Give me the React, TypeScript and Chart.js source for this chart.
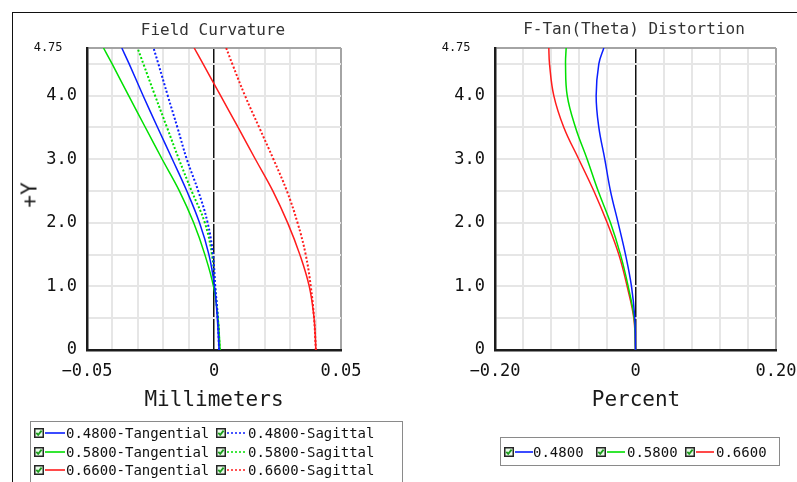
import React, { useEffect, useRef } from "react";
import { Chart, registerables } from "chart.js";

Chart.register(...registerables);

// ---------- data ----------
const fieldY = [0, 0.5, 1.0, 1.5, 2.0, 2.5, 3.0, 3.5, 4.0, 4.5, 4.75];

// Field curvature (mm)
const fc048T = [0.0020, 0.0013, 0.0002, -0.0020, -0.0057, -0.0107, -0.0164, -0.0222, -0.0279, -0.0334, -0.0363];
const fc048S = [0.0020, 0.0015, 0.0005, -0.0004, -0.0025, -0.0062, -0.0107, -0.0144, -0.0182, -0.0219, -0.0238];
const fc058T = [0.0024, 0.0016, -0.0002, -0.0036, -0.0080, -0.0136, -0.0204, -0.0270, -0.0336, -0.0401, -0.0435];
const fc058S = [0.0023, 0.0015, 0.0004, -0.0008, -0.0036, -0.0088, -0.0138, -0.0185, -0.0232, -0.0278, -0.0301];
const fc066T = [0.0401, 0.0394, 0.0375, 0.0338, 0.0290, 0.0232, 0.0163, 0.0095, 0.0026, -0.0043, -0.0078];
const fc066S = [0.0401, 0.0394, 0.0381, 0.0361, 0.0329, 0.0287, 0.0234, 0.0178, 0.0122, 0.0072, 0.0048];

// F-Tan(Theta) distortion (percent)
const dist048 = [0, -0.0010, -0.0057, -0.0142, -0.0247, -0.0356, -0.0437, -0.0522, -0.0560, -0.0522, -0.0451];
const dist058 = [0, -0.0019, -0.0104, -0.0214, -0.0356, -0.0531, -0.0688, -0.0854, -0.0972, -0.0996, -0.0987];
const dist066 = [0, -0.0024, -0.0119, -0.0237, -0.0403, -0.0593, -0.0807, -0.1020, -0.1163, -0.1224, -0.1234];

// ticks
const yTicks = [0, 0.5, 1.0, 1.5, 2.0, 2.5, 3.0, 3.5, 4.0, 4.5, 4.75];
const yMax = 4.75;
const fcXTicks = [-0.05, -0.04, -0.03, -0.02, -0.01, 0, 0.01, 0.02, 0.03, 0.04, 0.05];
const fcXLabels = ["\u22120.05", "0", "0.05"];
const distXTicks = [-0.2, -0.16, -0.12, -0.08, -0.04, 0, 0.04, 0.08, 0.12, 0.16, 0.2];
const distXLabels = ["\u22120.20", "0", "0.20"];

const fcLegend = [
  "0.4800-Tangential", "0.4800-Sagittal",
  "0.5800-Tangential", "0.5800-Sagittal",
  "0.6600-Tangential", "0.6600-Sagittal",
];
const distLegend = ["0.4800", "0.5800", "0.6600"];

// ---------- style ----------
const BLUE = "#0a1eff";
const GREEN = "#00e000";
const RED = "#ff1c1c";
const MONO = "'DejaVu Sans Mono', monospace";
const GRID = "#e6e6e6";
const EDGE = "#a4a4a4";

const pts = (xs: number[]) => fieldY.map((y, i) => ({ x: xs[i], y }));

function ds(xs: number[], color: string, dotted: boolean) {
  return {
    data: pts(xs),
    borderColor: color,
    backgroundColor: color,
    borderWidth: dotted ? 2 : 1.5,
    borderDash: dotted ? [2, 2] : [],
    pointRadius: 0,
    showLine: true,
    tension: 0.4,
    fill: false,
  };
}

function buildConfig(
  datasets: any[],
  xTicks: number[],
  xLabels: string[],
  yWidth: number,
  padRight: number
): any {
  const xMin = xTicks[0];
  const xMax = xTicks[xTicks.length - 1];
  const near = (a: number, b: number) => Math.abs(a - b) < 1e-9;
  return {
    type: "scatter",
    data: { datasets },
    options: {
      animation: false,
      responsive: false,
      events: [],
      layout: { padding: { top: 48, left: 0, right: padRight, bottom: 0 } },
      plugins: {
        legend: { display: false },
        tooltip: { enabled: false },
        title: { display: false },
      },
      scales: {
        x: {
          type: "linear",
          min: xMin,
          max: xMax,
          afterBuildTicks: (s: any) => {
            s.ticks = xTicks.map((v) => ({ value: v }));
          },
          afterFit: (s: any) => {
            s.height = 132;
          },
          ticks: {
            autoSkip: false,
            maxRotation: 0,
            padding: 11,
            color: "#111",
            font: { family: "DejaVu Sans Mono", size: 17 },
            callback: (v: number) =>
              near(v, xMin) ? xLabels[0] : near(v, 0) ? xLabels[1] : near(v, xMax) ? xLabels[2] : "",
          },
          grid: {
            drawTicks: false,
            color: (c: any) =>
              c.tick && near(c.tick.value, 0) ? "#111" : c.tick && near(c.tick.value, xMax) ? EDGE : GRID,
            lineWidth: (c: any) => (c.tick && near(c.tick.value, 0) ? 1.5 : 2),
          },
          border: { display: true, color: "#1c1c1c", width: 2.5 },
        },
        y: {
          type: "linear",
          min: 0,
          max: yMax,
          afterBuildTicks: (s: any) => {
            s.ticks = yTicks.map((v) => ({ value: v }));
          },
          afterFit: (s: any) => {
            s.width = yWidth;
          },
          ticks: {
            autoSkip: false,
            padding: 10,
            color: "#111",
            font: (c: any) =>
              c.tick && near(c.tick.value, yMax)
                ? { family: "DejaVu Sans Mono", size: 12 }
                : { family: "DejaVu Sans Mono", size: 17 },
            callback: (v: number) =>
              near(v, 0) ? "0" : near(v, yMax) ? "4.75  " : Number.isInteger(v) ? v.toFixed(1) : "",
          },
          grid: {
            drawTicks: false,
            color: (c: any) => (c.tick && near(c.tick.value, yMax) ? EDGE : GRID),
            lineWidth: 2,
          },
          border: { display: true, color: "#1c1c1c", width: 2.5 },
        },
      },
    },
  };
}

function ChartCanvas(props: { left: number; width: number; build: () => any }) {
  const ref = useRef<HTMLCanvasElement>(null);
  useEffect(() => {
    const chart = new Chart(ref.current as HTMLCanvasElement, props.build());
    return () => chart.destroy();
  }, []);
  return (
    <canvas
      ref={ref}
      width={props.width}
      height={482}
      style={{ position: "absolute", left: props.left, top: 0, width: props.width, height: 482 }}
    />
  );
}

function Check(props: { left: number; cy: number }) {
  return (
    <svg
      width={10}
      height={10}
      style={{ position: "absolute", left: props.left, top: props.cy - 5 }}
    >
      <rect x={0.75} y={0.75} width={8.5} height={8.5} fill="#eafbea" stroke="#262626" strokeWidth={1.5} />
      <path d="M2.3 4.8 L4.2 6.9 L7.6 2.6" fill="none" stroke="#1c9e1c" strokeWidth={1.8} />
    </svg>
  );
}

function Swatch(props: { left: number; cy: number; w: number; color: string; dotted: boolean }) {
  return (
    <svg width={props.w} height={4} style={{ position: "absolute", left: props.left, top: props.cy - 2 }}>
      <line
        x1={0}
        y1={2}
        x2={props.w}
        y2={2}
        stroke={props.color}
        strokeWidth={1.6}
        strokeDasharray={props.dotted ? "2 2" : undefined}
      />
    </svg>
  );
}

function Txt(props: { left: number; cy: number; text: string; size: number; color?: string }) {
  return (
    <div
      style={{
        position: "absolute",
        left: props.left,
        top: props.cy,
        transform: "translateY(-50%)",
        fontFamily: MONO,
        fontSize: props.size,
        lineHeight: 1,
        whiteSpace: "pre",
        color: props.color || "#111",
      }}
    >
      {props.text}
    </div>
  );
}

function Centered(props: { cx: number; cy: number; text: string; size: number; color: string; rotate?: boolean }) {
  return (
    <div
      style={{
        position: "absolute",
        left: props.cx,
        top: props.cy,
        transform: `translate(-50%, -50%)${props.rotate ? " rotate(-90deg)" : ""}`,
        fontFamily: MONO,
        fontSize: props.size,
        lineHeight: 1,
        whiteSpace: "pre",
        color: props.color,
      }}
    >
      {props.text}
    </div>
  );
}

export default function App() {
  const fcColors = [BLUE, BLUE, GREEN, GREEN, RED, RED];
  const distColors = [BLUE, GREEN, RED];
  const rowsY = [433, 451.5, 470];
  return (
    <div
      style={{
        position: "fixed",
        left: 0,
        top: 0,
        width: 797,
        height: 482,
        overflow: "hidden",
        background: "#fff",
      }}
    >
      <div
        style={{
          position: "absolute",
          left: 12,
          top: 12,
          width: 800,
          height: 500,
          borderLeft: "1.5px solid #111",
          borderTop: "1.5px solid #111",
        }}
      />
      <ChartCanvas
        left={0}
        width={400}
        build={() =>
          buildConfig(
            [
              ds(fc048T, BLUE, false),
              ds(fc048S, BLUE, true),
              ds(fc058T, GREEN, false),
              ds(fc058S, GREEN, true),
              ds(fc066T, RED, false),
              ds(fc066S, RED, true),
            ],
            fcXTicks,
            fcXLabels,
            87,
            59
          )
        }
      />
      <ChartCanvas
        left={400}
        width={440}
        build={() =>
          buildConfig(
            [ds(dist048, BLUE, false), ds(dist058, GREEN, false), ds(dist066, RED, false)],
            distXTicks,
            distXLabels,
            95,
            64
          )
        }
      />

      <Centered cx={213} cy={29.5} text="Field Curvature" size={16} color="#333" />
      <Centered cx={634} cy={28.5} text="F-Tan(Theta) Distortion" size={16} color="#333" />
      <Centered cx={214} cy={399} text="Millimeters" size={21} color="#1a1a1a" />
      <Centered cx={636} cy={399} text="Percent" size={21} color="#1a1a1a" />
      <Centered cx={30} cy={195} text="+Y" size={21} color="#1a1a1a" rotate />

      {/* Field curvature legend */}
      <div
        style={{
          position: "absolute",
          left: 30,
          top: 421,
          width: 373,
          height: 80,
          border: "1px solid #8a8a8a",
          boxSizing: "border-box",
        }}
      />
      {fcLegend.map((label, i) => {
        const row = Math.floor(i / 2);
        const col = i % 2;
        const cy = rowsY[row];
        const dotted = col === 1;
        const cb = col === 0 ? 34 : 216;
        const sl = col === 0 ? 45 : 227;
        const tl = col === 0 ? 66 : 248;
        return (
          <React.Fragment key={label}>
            <Check left={cb} cy={cy} />
            <Swatch left={sl} cy={cy} w={20} color={fcColors[i]} dotted={dotted} />
            <Txt left={tl} cy={cy} text={label} size={14} />
          </React.Fragment>
        );
      })}

      {/* Distortion legend */}
      <div
        style={{
          position: "absolute",
          left: 500,
          top: 437,
          width: 280,
          height: 29,
          border: "1px solid #8a8a8a",
          boxSizing: "border-box",
        }}
      />
      {distLegend.map((label, i) => {
        const cb = [504, 596, 685][i];
        const sl = [515, 607, 696][i];
        const tl = [533, 627, 716][i];
        return (
          <React.Fragment key={label}>
            <Check left={cb} cy={451.5} />
            <Swatch left={sl} cy={451.5} w={18} color={distColors[i]} dotted={false} />
            <Txt left={tl} cy={451.5} text={label} size={14} />
          </React.Fragment>
        );
      })}
    </div>
  );
}
